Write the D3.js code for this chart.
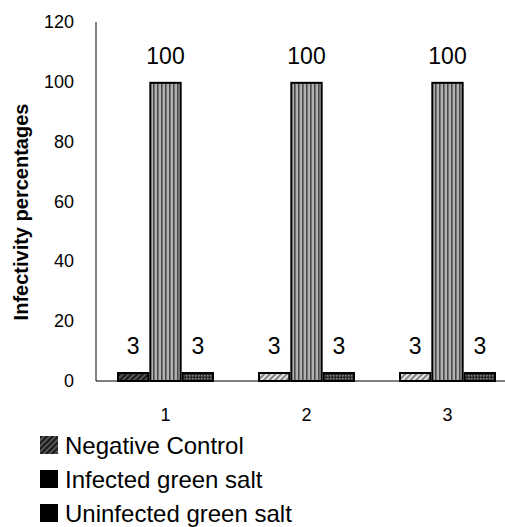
<!DOCTYPE html>
<html>
<head>
    <meta charset="utf-8">
    <script src="https://d3js.org/d3.v7.min.js"></script>
    <style>
        body { margin: 0; background: #fff; }
        text { font-family: "Liberation Sans", Arial, sans-serif; fill: #000; }
    </style>
</head>
<body>
    <svg id="chart"></svg>
    <script>
        // chart data
        var groups = ["1", "2", "3"];
        var seriesNames = ["Negative Control", "Infected green salt", "Uninfected green salt"];
        var negativeControl = [3, 3, 3];
        var infectedSalt = [100, 100, 100];
        var uninfectedSalt = [3, 3, 3];
        var yTicks = [0, 20, 40, 60, 80, 100, 120];

        var width = 505, height = 527;

        var svg = d3.select("#chart")
            .attr("width", width)
            .attr("height", height);

        // fill patterns
        var defs = svg.append("defs");

        var p = defs.append("pattern").attr("id", "negDark")
            .attr("width", 4).attr("height", 4)
            .attr("patternUnits", "userSpaceOnUse")
            .attr("patternTransform", "rotate(45)");
        p.append("rect").attr("width", 4).attr("height", 4).attr("fill", "#1a1a1a");
        p.append("rect").attr("width", 1.5).attr("height", 4).attr("fill", "#666");

        p = defs.append("pattern").attr("id", "negLight")
            .attr("width", 4).attr("height", 4)
            .attr("patternUnits", "userSpaceOnUse")
            .attr("patternTransform", "rotate(45)");
        p.append("rect").attr("width", 4).attr("height", 4).attr("fill", "#e6e6e6");
        p.append("rect").attr("width", 1.8).attr("height", 4).attr("fill", "#777");

        p = defs.append("pattern").attr("id", "vert")
            .attr("width", 4).attr("height", 4)
            .attr("patternUnits", "userSpaceOnUse");
        p.append("rect").attr("width", 4).attr("height", 4).attr("fill", "#b0b0b0");
        p.append("rect").attr("width", 1.6).attr("height", 4).attr("fill", "#4a4a4a");

        p = defs.append("pattern").attr("id", "dots")
            .attr("width", 3).attr("height", 3)
            .attr("patternUnits", "userSpaceOnUse");
        p.append("rect").attr("width", 3).attr("height", 3).attr("fill", "#2a2a2a");
        p.append("rect").attr("width", 1.5).attr("height", 1.5).attr("fill", "#8a8a8a");

        // scales
        var y = d3.scaleLinear().domain([0, 120]).range([381, 22]);
        var x0 = d3.scaleBand().domain(groups).range([95, 518]);
        var x1 = d3.scaleBand().domain(seriesNames).range([0, 97]);
        var groupPad = (x0.bandwidth() - 97) / 2;

        // axes lines
        svg.append("line")
            .attr("x1", 96).attr("x2", width)
            .attr("y1", y(0)).attr("y2", y(0))
            .attr("stroke", "#000").attr("stroke-width", 1);
        svg.append("line")
            .attr("x1", 96).attr("x2", 96)
            .attr("y1", y(120)).attr("y2", y(0))
            .attr("stroke", "#000").attr("stroke-width", 1);

        // y tick labels
        svg.append("g").selectAll("text")
            .data(yTicks)
            .join("text")
            .attr("x", 74)
            .attr("y", d => y(d))
            .attr("text-anchor", "end")
            .attr("dominant-baseline", "central")
            .style("font-size", "18px")
            .text(d => d);

        // x tick labels
        svg.append("g").selectAll("text")
            .data(groups)
            .join("text")
            .attr("x", d => x0(d) + x0.bandwidth() / 2)
            .attr("y", 415)
            .attr("text-anchor", "middle")
            .attr("dominant-baseline", "central")
            .style("font-size", "18px")
            .text(d => d);

        // y axis title
        svg.append("text")
            .attr("transform", "translate(21," + 212 + ") rotate(-90)")
            .attr("text-anchor", "middle")
            .attr("dominant-baseline", "central")
            .style("font-size", "20px")
            .style("font-weight", "bold")
            .text("Infectivity percentages");

        // bars
        var rows = groups.map((g, i) => ({
            group: g,
            values: [
                { name: seriesNames[0], value: negativeControl[i], fill: i == 0 ? "url(#negDark)" : "url(#negLight)" },
                { name: seriesNames[1], value: infectedSalt[i], fill: "url(#vert)" },
                { name: seriesNames[2], value: uninfectedSalt[i], fill: "url(#dots)" }
            ]
        }));

        var grp = svg.append("g").selectAll("g")
            .data(rows)
            .join("g")
            .attr("transform", d => "translate(" + (x0(d.group) + groupPad) + ",0)");

        grp.selectAll("rect")
            .data(d => d.values)
            .join("rect")
            .attr("x", d => x1(d.name) + 1)
            .attr("y", d => y(d.value) + 1)
            .attr("width", x1.bandwidth() - 2)
            .attr("height", d => y(0) - y(d.value) - 1)
            .attr("fill", d => d.fill)
            .attr("stroke", "#000")
            .attr("stroke-width", 2);

        grp.selectAll("text")
            .data(d => d.values)
            .join("text")
            .attr("x", d => x1(d.name) + x1.bandwidth() / 2)
            .attr("y", d => y(d.value) - 18)
            .attr("text-anchor", "middle")
            .style("font-size", "23px")
            .text(d => d.value);

        // legend
        var legendFills = ["url(#negDark)", "#000", "#000"];
        var leg = svg.append("g").selectAll("g")
            .data(seriesNames)
            .join("g")
            .attr("transform", (d, i) => "translate(40," + (445 + i * 34) + ")");
        leg.append("rect")
            .attr("x", 0).attr("y", -9)
            .attr("width", 18).attr("height", 18)
            .attr("fill", (d, i) => legendFills[i]);
        leg.append("text")
            .attr("x", 25)
            .attr("y", 0)
            .attr("dominant-baseline", "central")
            .style("font-size", "24px")
            .text(d => d);
    </script>
</body>
</html>
